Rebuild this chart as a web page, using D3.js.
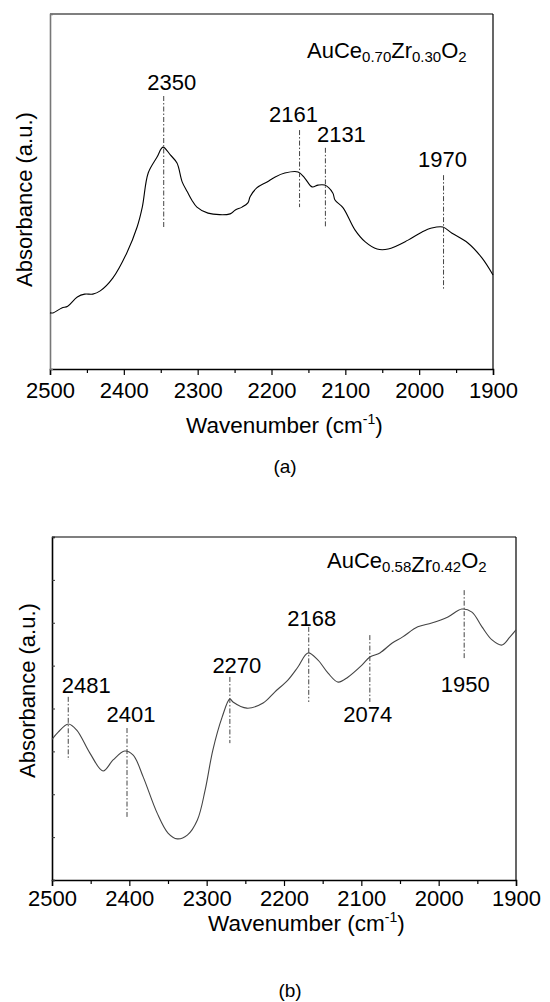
<!DOCTYPE html>
<html><head><meta charset="utf-8">
<script src="https://cdn.jsdelivr.net/npm/d3@7"></script>
<style>body{margin:0;background:#fff} text{font-family:"Liberation Sans",Arial,sans-serif;fill:#000}</style>
</head><body><svg id="c" width="550" height="1002"></svg>
<script>
// ---------- data ----------
const wavenumberTicks = [2500, 2400, 2300, 2200, 2100, 2000, 1900];
const wavenumberMinorTicks = [2450, 2350, 2250, 2150, 2050, 1950];

const topWavenumber = [2500,2496,2484,2476,2463,2453,2442,2432,2415,2396,2382,2375,2367,2355,2347,2337,2328,2321,2314,2308,2301,2286,2256,2249,2240,2232,2229,2220,2206,2195,2182,2164,2155,2145,2137,2128,2117,2114,2103,2087,2073,2057,2042,2015,1996,1983,1968,1956,1934,1915,1900];
const topAbsorbance = [15.8,15.8,17.2,17.7,20.3,21.1,21.1,22.0,25.6,32.7,40.0,45.6,55.2,59.7,62.5,60.3,58.0,52.7,49.9,47.6,45.6,43.9,43.7,44.8,45.6,46.8,48.5,51.0,52.7,54.1,55.2,55.5,53.8,51.3,51.8,51.8,49.6,47.6,45.4,39.2,35.8,33.8,33.8,36.3,38.6,39.7,40.0,38.3,35.5,31.3,26.5];

const botWavenumber = [2500,2492,2479,2468,2451,2434,2421,2406,2395,2382,2364,2350,2338,2325,2312,2302,2292,2280,2270,2266,2248,2227,2212,2195,2182,2169,2156,2143,2130,2117,2099,2089,2076,2060,2047,2027,2009,1988,1970,1957,1944,1931,1918,1908,1900];
const botAbsorbance = [41.0,43.1,45.5,43.7,37.0,31.8,35.0,37.6,36.4,30.0,19.5,13.7,12.0,13.1,17.5,26.2,37.9,47.5,52.8,51.9,50.1,51.6,54.8,58.3,62.1,66.2,64.1,60.3,57.7,59.2,62.7,65.0,66.2,69.1,70.8,73.8,74.9,76.7,79.0,78.1,73.8,70.0,68.5,70.8,72.9];

// peak annotations (values in data units)
const topPeakLabels = ["2350", "2161", "2131", "1970"];
const topPeakAt = [2346, 2162, 2127, 1967];
const topLineFrom = [76.9, 67.3, 62.3, 54.6];
const topLineTo = [39.7, 45.6, 40.0, 22.5];
const topLabelAt = [78.6, 69.6, 63.9, 56.9];

const botPeakLabels = ["2481", "2401", "2270", "2168", "2074", "1950"];
const botPeakAt = [2479, 2403, 2270, 2168, 2089, 1967];
const botLineFrom = [53.4, 44.3, 59.2, 73.8, 71.4, 84.5];
const botLineTo = [35.0, 18.4, 39.9, 51.9, 51.9, 64.7];
const botLabelAt = [54.5, 46.1, 60.3, 74.1, 46.1, 54.8];

// ---------- layout ----------
const svg = d3.select("#c");
const FONT = '"Liberation Sans",Arial,sans-serif';

function panel(cfg) {
  const g = svg.append("g");
  const x = d3.scaleLinear().domain([2500, 1900]).range([cfg.x0, cfg.x1]);
  const y = d3.scaleLinear().domain([0, 100]).range([cfg.y1, cfg.y0]);

  // frame
  g.append("line").attr("x1", cfg.x0).attr("x2", cfg.x1).attr("y1", cfg.y0).attr("y2", cfg.y0).attr("stroke", "#000").attr("stroke-width", 1.2);
  g.append("line").attr("x1", cfg.x1).attr("x2", cfg.x1).attr("y1", cfg.y0).attr("y2", cfg.y1).attr("stroke", "#000").attr("stroke-width", 1.2);

  // bottom axis
  const ax = g.append("g").attr("transform", `translate(0,${cfg.y1})`)
    .call(d3.axisBottom(x).tickValues(wavenumberTicks).tickSize(6).tickPadding(cfg.tickPad).tickFormat(d3.format("d")));
  ax.select(".domain").attr("stroke", "#000").attr("stroke-width", 1.5);
  ax.selectAll(".tick line").attr("stroke", "#000").attr("stroke-width", 1.2);
  ax.selectAll(".tick text").attr("font-size", 22).attr("font-family", FONT).attr("fill", "#000").attr("dy", "0.71em");
  g.append("g").attr("transform", `translate(0,${cfg.y1})`)
    .call(d3.axisBottom(x).tickValues(wavenumberMinorTicks).tickSize(4).tickFormat(""))
    .call(s => s.select(".domain").remove())
    .selectAll(".tick line").attr("stroke", "#000").attr("stroke-width", 1.2);

  // left axis
  const ay = g.append("g").attr("transform", `translate(${cfg.x0},0)`)
    .call(d3.axisLeft(y).tickValues(cfg.leftTicks ? d3.range(0, 100.1, 12.5) : []).tickSize(-3).tickFormat(""));
  ay.select(".domain").attr("stroke", cfg.leftColor).attr("stroke-width", 1.6);
  ay.selectAll(".tick line").attr("stroke", "#333").attr("stroke-width", 1);

  // curve
  const line = d3.line().x(d => x(d[0])).y(d => y(d[1])).curve(d3.curveCatmullRom.alpha(0.5));
  g.append("path").datum(d3.zip(cfg.wn, cfg.ab)).attr("d", line)
    .attr("fill", "none").attr("stroke", cfg.curveColor).attr("stroke-width", 1.1);

  // peak marks
  cfg.peakAt.forEach((p, i) => {
    g.append("line").attr("x1", x(p)).attr("x2", x(p))
      .attr("y1", y(cfg.lineFrom[i])).attr("y2", y(cfg.lineTo[i]))
      .attr("stroke", "#444").attr("stroke-width", 1).attr("stroke-dasharray", "5,2,1.5,2");
    g.append("text").attr("x", x(p) + cfg.labelDx[i]).attr("y", y(cfg.labelAt[i]))
      .attr("text-anchor", "middle").attr("font-size", 22).text(cfg.labels[i]);
  });

  // axis titles
  const xt = g.append("text").attr("x", cfg.xTitleX).attr("y", cfg.xTitleY).attr("font-size", 22.5);
  xt.append("tspan").text("Wavenumber (cm");
  xt.append("tspan").attr("font-size", 14).attr("dy", -9).text("-1");
  xt.append("tspan").attr("dy", 9).text(")");
  g.append("text").attr("transform", `translate(${cfg.yTitleX},${cfg.yTitleY}) rotate(-90)`)
    .attr("font-size", 22).text("Absorbance (a.u.)");

  // sample name
  const sn = g.append("text").attr("x", cfg.nameX).attr("y", cfg.nameY).attr("font-size", 22);
  cfg.name.forEach(part => {
    sn.append("tspan").attr("font-size", part[1] ? 15 : 22).attr("dy", part[2]).text(part[0]);
  });

  g.append("text").attr("x", cfg.capX).attr("y", cfg.capY).attr("text-anchor", "middle")
    .attr("font-size", 19).text(cfg.caption);
}

panel({
  x0: 50, x1: 493, y0: 14, y1: 369, leftTicks: false, leftColor: "#777", curveColor: "#000", tickPad: 7,
  wn: topWavenumber, ab: topAbsorbance,
  peakAt: topPeakAt, lineFrom: topLineFrom, lineTo: topLineTo, labelAt: topLabelAt,
  labels: topPeakLabels, labelDx: [8, -6, 16, -1],
  xTitleX: 186, xTitleY: 433, yTitleX: 32, yTitleY: 287,
  nameX: 307, nameY: 58,
  name: [["AuCe", false, 0], ["0.70", true, 4], ["Zr", false, -4], ["0.30", true, 4], ["O", false, -4], ["2", true, 4]],
  capX: 285, capY: 473, caption: "(a)"
});

panel({
  x0: 52, x1: 516, y0: 537, y1: 880, leftTicks: true, leftColor: "#000", curveColor: "#444", tickPad: 4,
  wn: botWavenumber, ab: botAbsorbance,
  peakAt: botPeakAt, lineFrom: botLineFrom, lineTo: botLineTo, labelAt: botLabelAt,
  labels: botPeakLabels, labelDx: [18, 4, 7, 3, -2, 1],
  xTitleX: 208, xTitleY: 931, yTitleX: 35, yTitleY: 778,
  nameX: 327, nameY: 568,
  name: [["AuCe", false, 0], ["0.58", true, 4], ["Zr", false, 0], ["0.42", true, 0], ["O", false, -4], ["2", true, 4]],
  capX: 290, capY: 997, caption: "(b)"
});
</script></body></html>
